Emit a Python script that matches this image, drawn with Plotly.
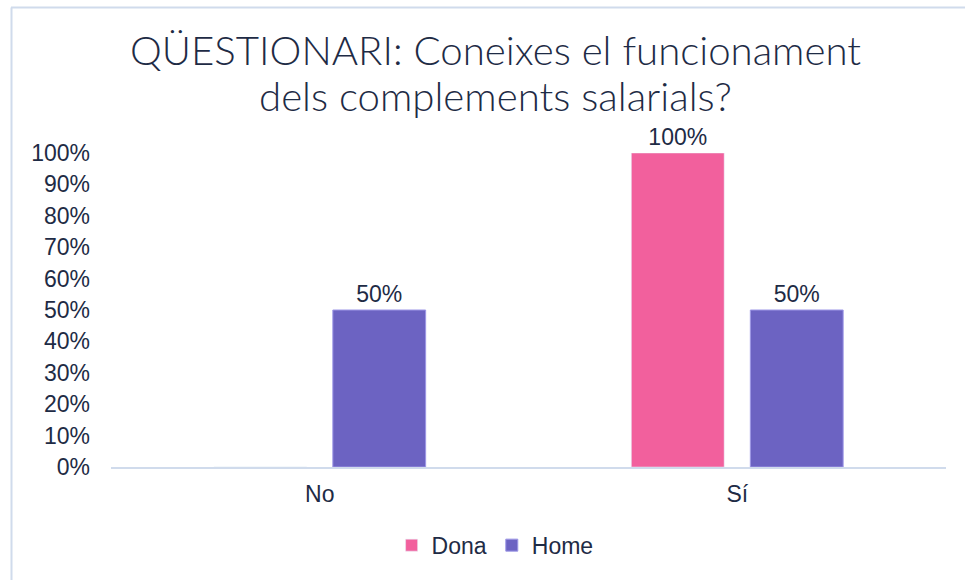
import plotly.graph_objects as go

# dades del qüestionari
respostes = ['No', 'Sí']
dona = [0.0, 1.0]
home = [0.5, 0.5]

titol = ['QÜESTIONARI: Coneixes el funcionament', 'dels complements salarials?']
ticks_y = [0, 0.1, 0.2, 0.3, 0.4, 0.5, 0.6, 0.7, 0.8, 0.9, 1.0]

text_col = '#1e2b45'
line_col = '#d0dbec'
arial = 'Liberation Sans, Arial'


def etiquetes(vals):
    # no es mostra l'etiqueta de 0%
    return [f'{v:.0%}' if v else '' for v in vals]


fig = go.Figure()
fig.add_trace(go.Bar(x=respostes, y=dona, name='Dona', marker_color='#f2609d',
                     text=etiquetes(dona), textposition='outside', cliponaxis=False))
fig.add_trace(go.Bar(x=respostes, y=home, name='Home', marker_color='#6c63c2',
                     marker_line=dict(color='#9d97e6', width=1),
                     text=etiquetes(home), textposition='outside', cliponaxis=False))

fig.update_traces(textfont=dict(family=arial, size=23, color=text_col))

fig.update_layout(
    width=965, height=580,
    margin=dict(l=111, r=19, t=153, b=113),
    paper_bgcolor='white', plot_bgcolor='white',
    barmode='group', bargap=0.43, bargroupgap=0.22,
    font=dict(family=arial, size=23, color=text_col),
    legend=dict(orientation='h', x=0.46, xanchor='center', y=-0.249, yanchor='middle',
                font=dict(family=arial, size=23, color=text_col),
                itemwidth=30, traceorder='normal'),
    showlegend=True,
)

# títol en dues línies (interlineat més ajustat que el de plotly)
for i, linia in enumerate(titol):
    fig.add_annotation(text=linia, xref='paper', yref='paper',
                       x=(495 - 111) / 835, y=(467 - 50 - 45 * i) / 314,
                       xanchor='center', yanchor='middle', showarrow=False,
                       font=dict(family='Lato', size=40.2, color=text_col, weight=300))

fig.update_yaxes(range=[0, 1], tickvals=ticks_y, tickformat='.0%', showgrid=False,
                 zeroline=False, showline=False, ticks='', ticklabelstandoff=20,
                 tickfont=dict(family=arial, size=23, color=text_col))
fig.update_xaxes(showgrid=False, showline=True, linecolor=line_col, linewidth=2,
                 ticks='', ticklabelstandoff=5,
                 tickfont=dict(family=arial, size=23, color=text_col))

# vora del gràfic (superior i esquerra)
fig.add_shape(type='line', xref='paper', yref='paper',
              x0=(11 - 111) / 835, x1=(965 - 111) / 835,
              y0=(467 - 7.5) / 314, y1=(467 - 7.5) / 314,
              line=dict(color=line_col, width=2))
fig.add_shape(type='line', xref='paper', yref='paper',
              x0=(11.5 - 111) / 835, x1=(11.5 - 111) / 835,
              y0=(467 - 7.5) / 314, y1=(467 - 585) / 314,
              line=dict(color=line_col, width=2))

# sense el marge per defecte del body
fig.write_html('out.html', config={'displayModeBar': False},
               post_script="document.body.style.margin='0';")
